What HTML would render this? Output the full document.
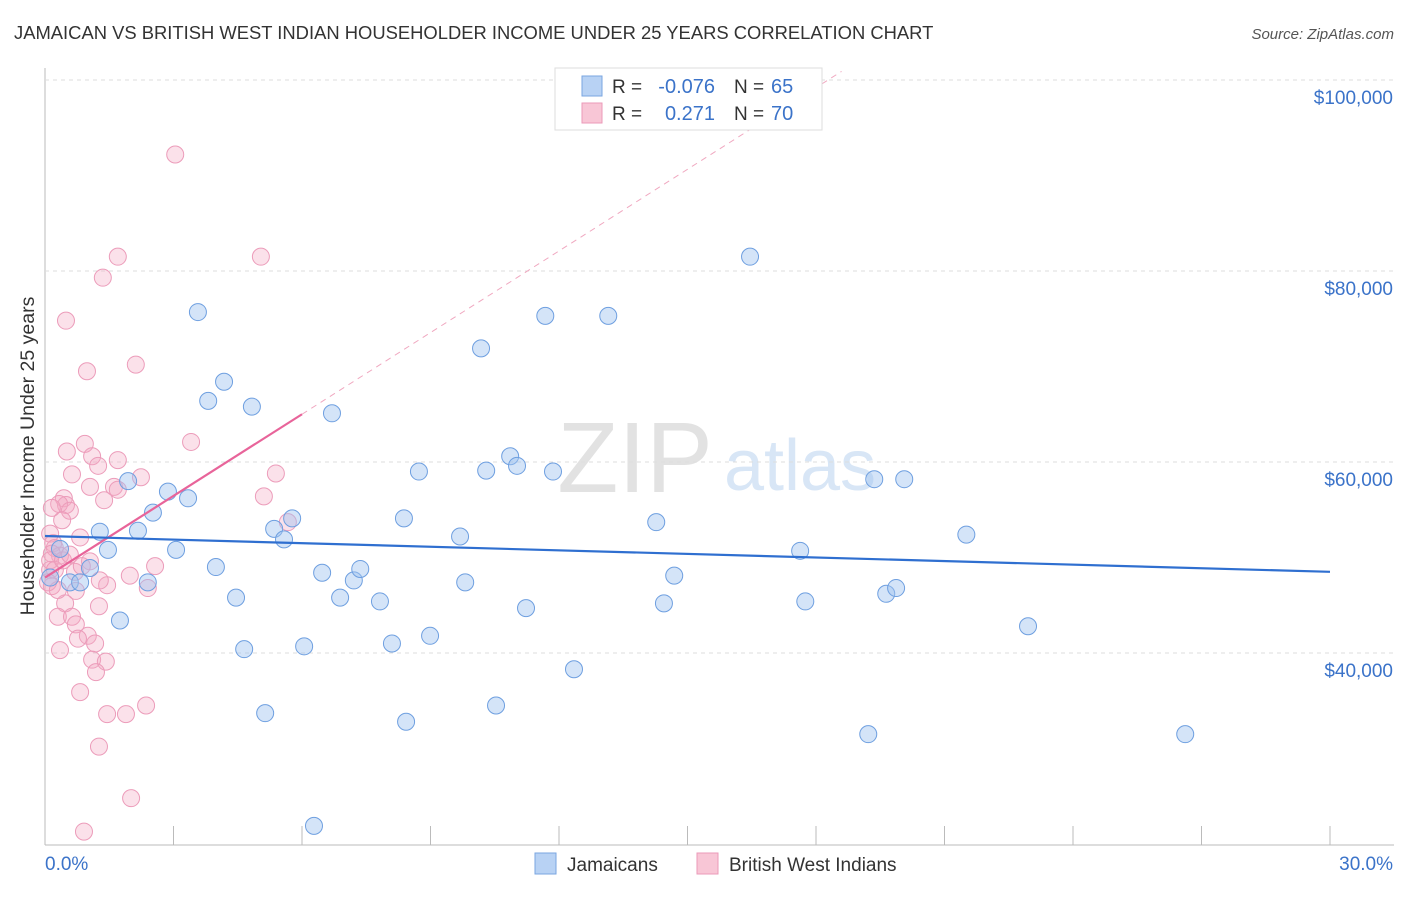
<!DOCTYPE html>
<html><head><meta charset="utf-8"><style>
body{margin:0;background:#fff;font-family:"Liberation Sans",sans-serif;}
svg text{font-family:"Liberation Sans",sans-serif;}
</style></head><body>
<svg id="c" width="1406" height="892" xmlns="http://www.w3.org/2000/svg">
<text x="14" y="39" font-size="18.4" fill="#333">JAMAICAN VS BRITISH WEST INDIAN HOUSEHOLDER INCOME UNDER 25 YEARS CORRELATION CHART</text>
<text x="1394" y="39" font-size="15" fill="#555" font-style="italic" text-anchor="end">Source: ZipAtlas.com</text>
<text x="635" y="492" font-size="100" fill="#e2e2e2" font-family="Liberation Serif" text-anchor="middle">ZIP</text>
<text x="800" y="490" font-size="72" fill="#d8e6f6" text-anchor="middle">atlas</text>
<text transform="translate(34,456) rotate(-90)" font-size="19.5" fill="#333" text-anchor="middle">Householder Income Under 25 years</text>
<g id="grid"></g><g id="marks"></g>
<g>
<rect x="555" y="68" width="267" height="62" fill="#fff" stroke="#ddd"/>
<rect x="582" y="76" width="20" height="20" fill="#b8d2f4" stroke="#7aa6e0"/>
<rect x="582" y="103" width="20" height="20" fill="#f8c6d6" stroke="#eb9ab8"/>
<text x="612" y="93" font-size="19" fill="#333">R = </text>
<text x="715" y="93" font-size="20" fill="#3b73c9" text-anchor="end">-0.076</text>
<text x="734" y="93" font-size="19" fill="#333">N = </text>
<text x="771" y="93" font-size="20" fill="#3b73c9">65</text>
<text x="612" y="120" font-size="19" fill="#333">R = </text>
<text x="715" y="120" font-size="20" fill="#3b73c9" text-anchor="end">0.271</text>
<text x="734" y="120" font-size="19" fill="#333">N = </text>
<text x="771" y="120" font-size="20" fill="#3b73c9">70</text>
</g>
<g>
<rect x="535" y="853" width="21" height="21" fill="#b8d2f4" stroke="#7aa6e0"/>
<text x="567" y="871" font-size="19" fill="#333">Jamaicans</text>
<rect x="697" y="853" width="21" height="21" fill="#f8c6d6" stroke="#eb9ab8"/>
<text x="729" y="871" font-size="19" fill="#333">British West Indians</text>
</g>
</svg>
<script>
const blueX=[0.12,0.35,0.58,0.82,1.05,1.28,1.47,1.75,1.94,2.17,2.40,2.52,2.87,3.06,3.34,3.57,3.81,3.99,4.18,4.46,4.65,4.83,5.14,5.35,5.58,5.77,6.05,6.28,6.47,6.70,6.89,7.21,7.36,7.82,8.10,8.38,8.43,8.73,8.99,9.69,9.81,10.18,10.30,10.53,10.86,11.02,11.23,11.68,11.86,12.35,13.15,14.27,14.45,14.69,16.46,17.63,17.75,19.22,19.36,19.64,19.87,20.06,21.51,22.95,26.62];
const blueY=[47.9,50.9,47.4,47.4,48.9,52.7,50.8,43.4,58.0,52.8,47.4,54.7,56.9,50.8,56.2,75.7,66.4,49.0,68.4,45.8,40.4,65.8,33.7,53.0,51.9,54.1,40.7,21.9,48.4,65.1,45.8,47.6,48.8,45.4,41.0,54.1,32.8,59.0,41.8,52.2,47.4,71.9,59.1,34.5,60.6,59.6,44.7,75.3,59.0,38.3,75.3,53.7,45.2,48.1,81.5,50.7,45.4,31.5,58.2,46.2,46.8,58.2,52.4,42.8,31.5];
const pinkX=[3.04,1.70,5.04,1.35,0.49,2.12,0.98,3.41,0.51,0.93,1.70,1.10,1.24,0.63,5.39,2.24,1.05,1.61,1.70,1.38,0.44,0.49,0.33,5.11,0.16,0.58,0.40,5.67,0.82,0.12,0.19,0.23,0.35,0.16,1.05,2.57,0.12,1.98,2.40,1.45,0.16,0.72,0.47,1.26,0.30,0.63,0.72,1.00,1.17,0.77,0.35,1.10,1.42,1.19,0.82,1.45,1.89,2.36,1.26,2.01,0.91,0.12,0.23,0.07,0.70,0.42,0.86,0.58,0.30,1.28];
const pinkY=[92.2,81.5,81.5,79.3,74.8,70.2,69.5,62.1,61.1,61.9,60.2,60.6,59.6,58.7,58.8,58.4,57.4,57.4,57.1,56.0,56.2,55.5,55.6,56.4,55.2,54.9,53.9,53.7,52.1,52.5,51.5,51.0,50.2,50.4,49.6,49.1,48.7,48.1,46.8,47.1,47.0,46.5,45.2,44.9,43.8,43.8,43.0,41.8,41.0,41.5,40.3,39.3,39.1,38.0,35.9,33.6,33.6,34.5,30.2,24.8,21.3,49.7,48.7,47.4,48.5,49.7,49.1,50.3,46.6,47.6];
const yTicks=[40,60,80,100];
const yTickLabels=["$40,000","$60,000","$80,000","$100,000"];
const blueTrend=[52.25,48.5];   // value at x=0, x=30
const pinkTrend=[47.9,65.0];    // value at x=0, x=6
const pinkSolidEnd=6;
const NS="http://www.w3.org/2000/svg";
const sx=v=>45+v*1285/30;
const sy=v=>653-(v-40)*191/20;
const svg=document.getElementById('c'),grid=document.getElementById('grid'),marks=document.getElementById('marks');
function mk(tag,a,p){const e=document.createElementNS(NS,tag);for(const k in a)e.setAttribute(k,a[k]);(p||svg).appendChild(e);return e;}
let ax=mk('line',{x1:45,y1:68,x2:45,y2:845,stroke:'#bbb'},grid);


let bx=mk('line',{x1:45,y1:845,x2:1394,y2:845,stroke:'#bbb'},grid);


yTicks.forEach((t,i)=>{
 let g=mk('line',{x1:45,y1:sy(t),x2:1394,y2:sy(t),stroke:'#ddd','stroke-dasharray':'4,4'},grid);
 
 
 let l=mk('text',{x:1393,y:sy(t)+24,'font-size':19,fill:'#3b73c9','text-anchor':'end'},grid);
 l.textContent=yTickLabels[i];
 
 
});
for(let i=0;i<=10;i++){
 let t=mk('line',{x1:sx(i*3),y1:826,x2:sx(i*3),y2:845,stroke:'#bbb'},grid);
 
 
}
let x0=mk('text',{x:45,y:870,'font-size':19,fill:'#3b73c9'},grid);x0.textContent='0.0%';


let x1=mk('text',{x:1393,y:870,'font-size':19,fill:'#3b73c9','text-anchor':'end'},grid);x1.textContent='30.0%';


pinkX.forEach((x,i)=>{
 let c=mk('circle',{cx:sx(x),cy:sy(pinkY[i]),r:8.5,fill:'rgba(244,170,196,0.35)',stroke:'#ec9cba','stroke-width':1},marks);
 
 
});
blueX.forEach((x,i)=>{
 let c=mk('circle',{cx:sx(x),cy:sy(blueY[i]),r:8.5,fill:'rgba(160,195,240,0.45)',stroke:'#6e9fe0','stroke-width':1},marks);
 
 
});
const slope=(pinkTrend[1]-pinkTrend[0])/pinkSolidEnd;
const xTop=(100.9-pinkTrend[0])/slope;
let pd=mk('line',{x1:sx(pinkSolidEnd),y1:sy(pinkTrend[1]),x2:sx(xTop),y2:sy(100.9),stroke:'#f0a8c0','stroke-dasharray':'6,5','stroke-width':1},marks);


let ps=mk('line',{x1:sx(0),y1:sy(pinkTrend[0]),x2:sx(pinkSolidEnd),y2:sy(pinkTrend[1]),stroke:'#e8649a','stroke-width':2.2},marks);


let bl=mk('line',{x1:sx(0),y1:sy(blueTrend[0]),x2:sx(30),y2:sy(blueTrend[1]),stroke:'#2f6fd0','stroke-width':2.2},marks);


</script>
</body></html>
